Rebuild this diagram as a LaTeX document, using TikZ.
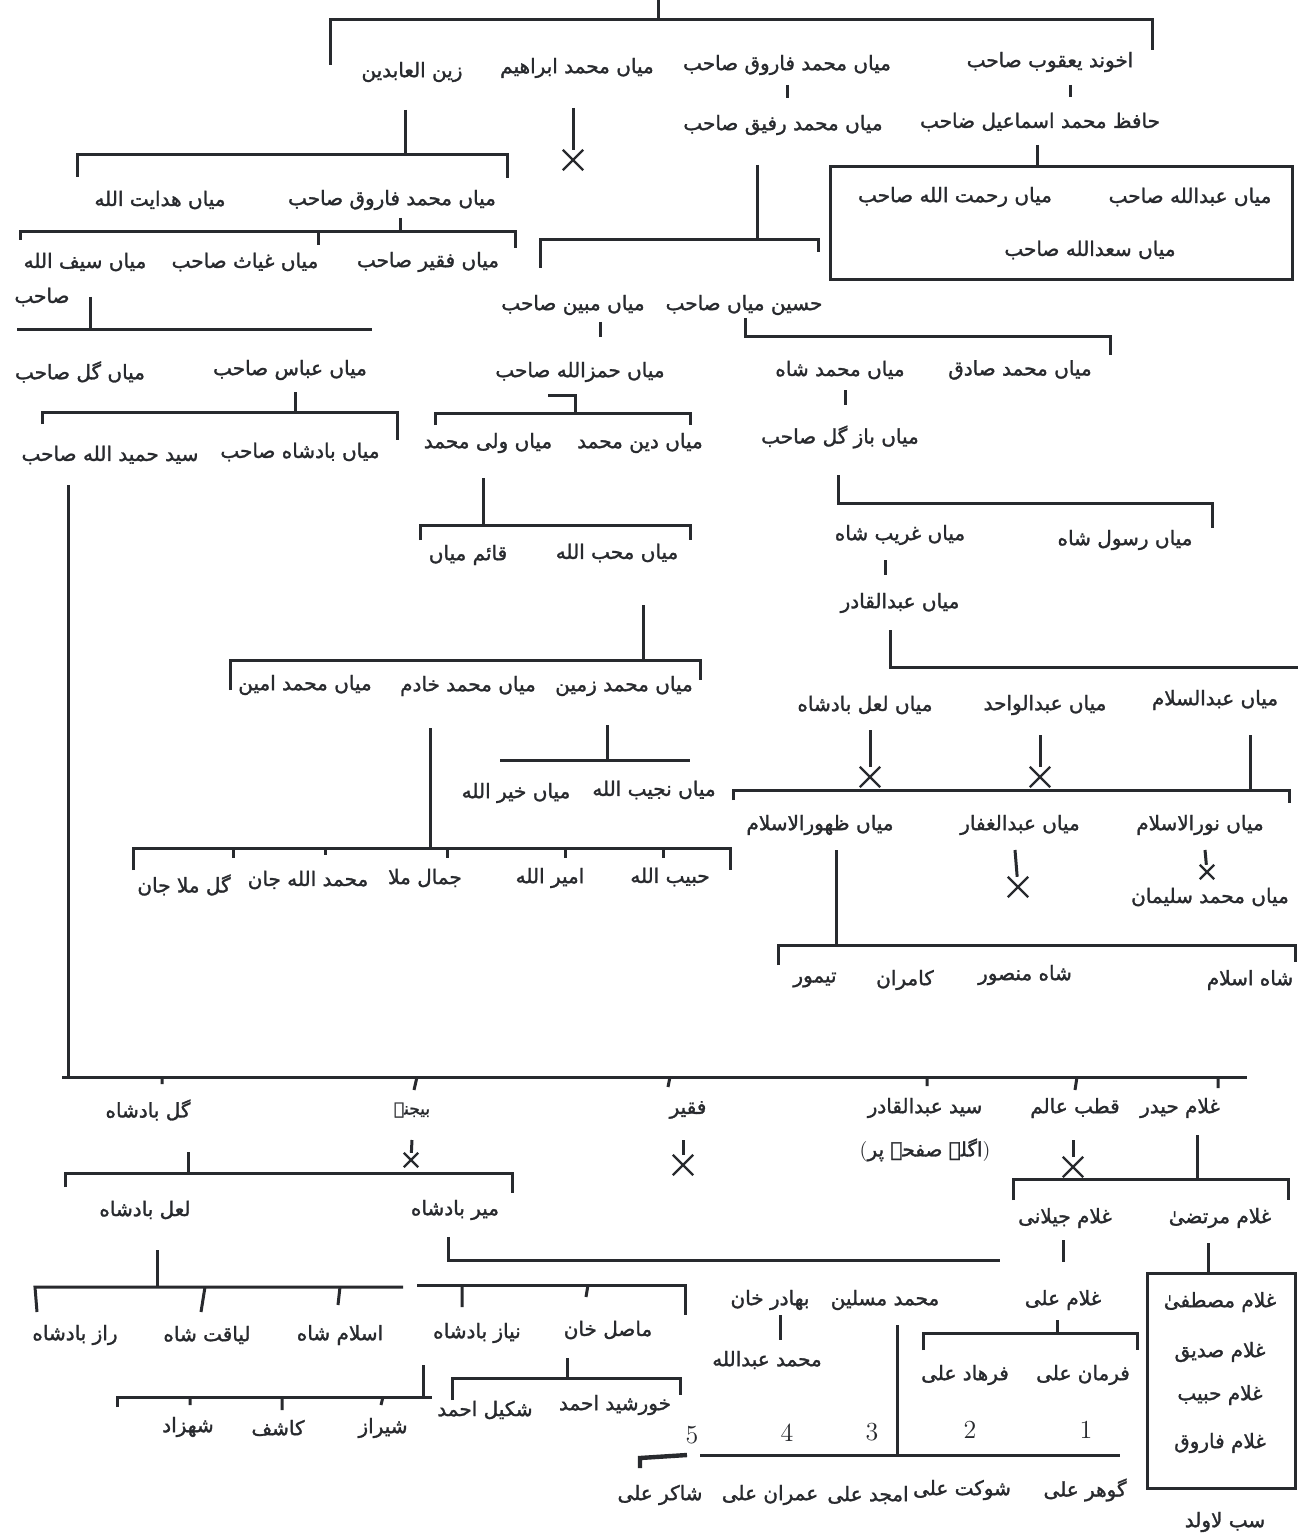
\documentclass[tikz,border=0pt]{standalone}
\usepackage{fontspec}
\newfontfamily\urfont[Script=Arabic, FakeBold=1.5]{DejaVu Sans}
\TeXXeTstate=1
\usepackage{tikz}
\usetikzlibrary{shapes.misc}
\definecolor{ink}{RGB}{40,42,46}
\newcommand{\ur}[1]{{\urfont\beginR #1\endR}}

\begin{document}
\begin{tikzpicture}[x=0.5pt, y=-0.5pt, color=ink, line width=1.5pt,
    every node/.style={font=\fontsize{10}{12}\selectfont, inner sep=1pt},
    cut/.style={draw, cross out, minimum size=9pt, inner sep=0pt, line width=1.2pt},
    num/.style={font=\fontsize{13}{14}\selectfont}]
  \fill[white] (0,0) rectangle (1314,1535);
  \useasboundingbox (0,0) rectangle (1314,1535);

  % first generation
  \node (yaqub) at (1050,62) {\ur{اخوند یعقوب صاحب}};
  \node (faruq1) at (787,65) {\ur{میاں محمد فاروق صاحب}};
  \node (ibrahim) at (577,68) {\ur{میاں محمد ابراهیم}};
  \node (zain) at (412,72) {\ur{زین العابدین}};
  \node (ismail) at (1040,122) {\ur{حافظ محمد اسماعیل ضاحب}};
  \node (rafiq) at (783,125) {\ur{میاں محمد رفیق صاحب}};
  \node (abdullah1) at (1190,197) {\ur{میاں عبدالله صاحب}};
  \node (rahmat) at (955,197) {\ur{میاں رحمت الله صاحب}};
  \node (sadullah) at (1090,250) {\ur{میاں سعدالله صاحب}};

  % left branch
  \node (faruq2) at (392,200) {\ur{میاں محمد فاروق صاحب}};
  \node (hidayat) at (160,200) {\ur{میاں هدایت الله}};
  \node (faqir1) at (428,262) {\ur{میاں فقیر صاحب}};
  \node (ghiyas) at (245,262) {\ur{میاں غیاث صاحب}};
  \node (saif) at (85,262) {\ur{میاں سیف الله}};
  \node (saif2) at (42,297) {\ur{صاحب}};
  \node (abbas) at (290,370) {\ur{میاں عباس صاحب}};
  \node (gul1) at (80,372) {\ur{میاں گل صاحب}};
  \node (badshah1) at (300,452) {\ur{میاں بادشاه صاحب}};
  \node (hamid) at (110,455) {\ur{سید حمید الله صاحب}};

  % middle branch
  \node (husain) at (744,305) {\ur{حسین میاں صاحب}};
  \node (mubin) at (573,305) {\ur{میاں مبین صاحب}};
  \node (hamza) at (580,372) {\ur{میاں حمزالله صاحب}};
  \node (dinm) at (640,443) {\ur{میاں دین محمد}};
  \node (walim) at (488,443) {\ur{میاں ولی محمد}};
  \node (muhib) at (617,553) {\ur{میاں محب الله}};
  \node (qaim) at (468,555) {\ur{قائم میاں}};
  \node (zamin) at (624,686) {\ur{میاں محمد زمین}};
  \node (khadim) at (468,686) {\ur{میاں محمد خادم}};
  \node (amin) at (305,685) {\ur{میاں محمد امین}};
  \node (najib) at (654,790) {\ur{میاں نجیب الله}};
  \node (khair) at (516,793) {\ur{میاں خیر الله}};
  \node (habib1) at (670,877) {\ur{حبیب الله}};
  \node (amir) at (550,878) {\ur{امیر الله}};
  \node (jamal) at (425,878) {\ur{جمال ملا}};
  \node (mjan) at (308,880) {\ur{محمد الله جان}};
  \node (gjan) at (184,885) {\ur{گل ملا جان}};

  % right branch
  \node (sadiq) at (1020,370) {\ur{میاں محمد صادق}};
  \node (mshah) at (840,370) {\ur{میاں محمد شاه}};
  \node (bazgul) at (840,437) {\ur{میاں باز گل صاحب}};
  \node (gharib) at (900,535) {\ur{میاں غریب شاه}};
  \node (rasul) at (1125,540) {\ur{میاں رسول شاه}};
  \node (abdulqadir) at (900,603) {\ur{میاں عبدالقادر}};
  \node (salam) at (1215,700) {\ur{میاں عبدالسلام}};
  \node (wahid) at (1045,705) {\ur{میاں عبدالواحد}};
  \node (lal1) at (865,705) {\ur{میاں لعل بادشاه}};
  \node (nurul) at (1200,825) {\ur{میاں نورالاسلام}};
  \node (ghaffar) at (1020,825) {\ur{میاں عبدالغفار}};
  \node (zuhur) at (820,825) {\ur{میاں ظهورالاسلام}};
  \node (sulaiman) at (1210,897) {\ur{میاں محمد سلیمان}};
  \node (shahislam) at (1250,980) {\ur{شاه اسلام}};
  \node (mansur) at (1025,975) {\ur{شاه منصور}};
  \node (kamran) at (905,980) {\ur{کامران}};
  \node (taimur) at (815,980) {\ur{تیمور}};

  % lower chart
  \node (gulb) at (148,1110) {\ur{گل بادشاه}};
  \node[font=\fontsize{8.5}{9}\selectfont] (bijne) at (412,1110) {\ur{بیجنے}};
  \node (faqir2) at (688,1110) {\ur{فقیر}};
  \node (sqadir) at (925,1108) {\ur{سید عبدالقادر}};
  \node (sqadir2) at (925,1150) {(\ur{اگلے صفحے پر})};
  \node (qutb) at (1075,1108) {\ur{قطب عالم}};
  \node (haidar) at (1180,1108) {\ur{غلام حیدر}};
  \node (lalb) at (145,1210) {\ur{لعل بادشاه}};
  \node (mirb) at (455,1210) {\ur{میر بادشاه}};
  \node (murtaza) at (1220,1218) {\ur{غلام مرتضیٰ}};
  \node (jilani) at (1065,1218) {\ur{غلام جیلانی}};
  \node (ali) at (1063,1300) {\ur{غلام علی}};
  \node (razb) at (75,1335) {\ur{راز بادشاه}};
  \node (liaqat) at (207,1335) {\ur{لیاقت شاه}};
  \node (islamshah) at (340,1335) {\ur{اسلام شاه}};
  \node (niaz) at (477,1333) {\ur{نیاز بادشاه}};
  \node (masil) at (608,1330) {\ur{ماصل خان}};
  \node (bahadur) at (770,1300) {\ur{بهادر خان}};
  \node (muslin) at (885,1300) {\ur{محمد مسلین}};
  \node (mabdullah) at (767,1360) {\ur{محمد عبدالله}};
  \node (farman) at (1083,1375) {\ur{فرمان علی}};
  \node (farhad) at (965,1375) {\ur{فرهاد علی}};
  \node (mustafa) at (1220,1302) {\ur{غلام مصطفیٰ}};
  \node (siddiq) at (1220,1352) {\ur{غلام صدیق}};
  \node (habib2) at (1220,1395) {\ur{غلام حبیب}};
  \node (faruq3) at (1220,1443) {\ur{غلام فاروق}};
  \node (sab) at (1225,1522) {\ur{سب لاولد}};
  \node (shahzad) at (188,1427) {\ur{شهزاد}};
  \node (kashif) at (278,1428) {\ur{کاشف}};
  \node (shiraz) at (383,1428) {\ur{شیراز}};
  \node (khurshid) at (615,1405) {\ur{خورشید احمد}};
  \node (shakil) at (485,1410) {\ur{شکیل احمد}};
  \node[num] (n1) at (1086,1430) {1};
  \node[num] (n2) at (970,1430) {2};
  \node[num] (n3) at (872,1432) {3};
  \node[num] (n4) at (787,1433) {4};
  \node[num] (n5) at (692,1435) {5};
  \node (gohar) at (1085,1490) {\ur{گوهر علی}};
  \node (shaukat) at (962,1490) {\ur{شوکت علی}};
  \node (amjad) at (868,1495) {\ur{امجد علی}};
  \node (imran) at (770,1495) {\ur{عمران علی}};
  \node (shakir) at (660,1495) {\ur{شاکر علی}};

  % top bus
  \coordinate (root) at (658,0);
  \coordinate (r-l) at (330,20); \coordinate (r-r) at (1152,20);
  \draw (root) -- (root |- r-l);
  \draw (r-l) ++(0,45) -- (r-l) -- (r-r) -- ++(0,30);

  \coordinate (yq) at (1070,85); \draw (yq) -- ++(0,12);
  \coordinate (is) at (1037,145);
  \coordinate (box1a) at (830,167); \coordinate (box1b) at (1292,280);
  \draw (is) -- (is |- box1a);
  \draw (box1a) rectangle (box1b);
  \coordinate (fq) at (787,85); \draw (fq) -- ++(0,13);
  \coordinate (ib) at (573,108);
  \node[cut] (ib-x) at (573,160) {};
  \draw (ib) -- (ib-x);

  % zain
  \coordinate (zn) at (405,110);
  \coordinate (zn-l) at (77,155); \coordinate (zn-r) at (507,155);
  \draw (zn) -- (zn |- zn-l);
  \draw (zn-l) ++(0,22) -- (zn-l) -- (zn-r) -- ++(0,23);
  \coordinate (f2) at (400,218);
  \coordinate (f2-l) at (20,232); \coordinate (f2-r) at (515,232);
  \coordinate (f2-t) at (318,232);
  \draw (f2) -- (f2 |- f2-l);
  \draw (f2-l) ++(0,8) -- (f2-l) -- (f2-r) -- ++(0,16);
  \draw (f2-t) -- ++(0,13);
  \coordinate (sf) at (90,297);
  \coordinate (sf-l) at (17,330); \coordinate (sf-r) at (372,330);
  \draw (sf) -- (sf |- sf-l);
  \draw (sf-l) -- (sf-r);
  \coordinate (ab) at (295,392);
  \coordinate (ab-l) at (42,412); \coordinate (ab-r) at (397,412);
  \draw (ab) -- (ab |- ab-l);
  \draw (ab-l) ++(0,12) -- (ab-l) -- (ab-r) -- ++(0,28);
  \coordinate (hm) at (68,485);
  \coordinate (hm-l) at (62,1077); \coordinate (hm-r) at (1247,1077);
  \draw (hm) -- (hm |- hm-l);
  \draw (hm-l) -- (hm-r);
  \draw (162,1077) -- ++(0,7) (417,1077) -- ++(-3,13) (670,1077) -- ++(-2,10)
        (927,1077) -- ++(0,9) (1077,1077) -- ++(-2,13) (1218,1077) -- ++(0,11);

  % rafiq
  \coordinate (rf) at (757,165);
  \coordinate (rf-l) at (540,240); \coordinate (rf-r) at (818,240);
  \draw (rf) -- (rf |- rf-l);
  \draw (rf-l) ++(0,28) -- (rf-l) -- (rf-r) -- ++(0,12);
  \coordinate (mb) at (600,322); \draw (mb) -- ++(0,15);
  \coordinate (hs) at (745,318); \coordinate (hs-r) at (1110,337);
  \draw (hs) -- (hs |- hs-r) -- (hs-r) -- ++(0,18);
  \coordinate (ms) at (845,390); \draw (ms) -- ++(0,15);
  \coordinate (bz) at (838,475); \coordinate (bz-r) at (1212,503);
  \draw (bz) -- (bz |- bz-r) -- (bz-r) -- ++(0,25);
  \coordinate (gb) at (885,560); \draw (gb) -- ++(0,15);
  \coordinate (aq) at (890,630); \coordinate (aq-r) at (1298,667);
  \draw (aq) -- (aq |- aq-r) -- (aq-r);
  \coordinate (ll) at (870,730); \node[cut] (ll-x) at (870,777) {};
  \draw (ll) -- (ll-x);
  \coordinate (wh) at (1040,735); \node[cut] (wh-x) at (1040,777) {};
  \draw (wh) -- (wh-x);
  \coordinate (sl) at (1250,735);
  \coordinate (sl-l) at (733,790); \coordinate (sl-r) at (1289,790);
  \draw (sl) -- (sl |- sl-l);
  \draw (sl-l) ++(0,10) -- (sl-l) -- (sl-r) -- ++(0,13);
  \coordinate (gf) at (1015,850); \node[cut] (gf-x) at (1018,887) {};
  \draw (gf) -- (gf-x);
  \coordinate (nr) at (1205,850); \node[cut, minimum size=6pt] (nr-x) at (1207,872) {};
  \draw (nr) -- (nr-x);
  \coordinate (zh) at (836,850);
  \coordinate (zh-l) at (778,945); \coordinate (zh-r) at (1295,945);
  \draw (zh) -- (zh |- zh-l);
  \draw (zh-l) ++(0,20) -- (zh-l) -- (zh-r) -- ++(0,17);

  % hamza
  \coordinate (hz) at (575,395);
  \coordinate (hz-l) at (435,413); \coordinate (hz-r) at (690,413);
  \draw (hz) ++(-27,0) -- (hz) -- (hz |- hz-l);
  \draw (hz-l) ++(0,12) -- (hz-l) -- (hz-r) -- ++(0,12);
  \coordinate (wl) at (483,478);
  \coordinate (wl-l) at (420,525); \coordinate (wl-r) at (690,525);
  \draw (wl) -- (wl |- wl-l);
  \draw (wl-l) ++(0,15) -- (wl-l) -- (wl-r) -- ++(0,15);
  \coordinate (mh) at (643,605);
  \coordinate (mh-l) at (230,660); \coordinate (mh-r) at (700,660);
  \draw (mh) -- (mh |- mh-l);
  \draw (mh-l) ++(0,30) -- (mh-l) -- (mh-r) -- ++(0,20);
  \coordinate (zm) at (607,725);
  \coordinate (zm-l) at (500,760); \coordinate (zm-r) at (690,760);
  \draw (zm) -- (zm |- zm-l);
  \draw (zm-l) -- (zm-r);
  \coordinate (kd) at (430,728);
  \coordinate (kd-l) at (133,848); \coordinate (kd-r) at (730,848);
  \draw (kd) -- (kd |- kd-l);
  \draw (kd-l) ++(0,22) -- (kd-l) -- (kd-r) -- ++(0,22);
  \draw (233,848) -- ++(0,10) (325,848) -- ++(0,7) (447,848) -- ++(0,10)
        (565,848) -- ++(0,10) (663,848) -- ++(0,10);

  % lower chart
  \coordinate (gl) at (188,1152);
  \coordinate (gl-l) at (65,1173); \coordinate (gl-r) at (512,1173);
  \draw (gl) -- (gl |- gl-l);
  \draw (gl-l) ++(0,14) -- (gl-l) -- (gl-r) -- ++(0,20);
  \coordinate (bj) at (412,1140); \node[cut, minimum size=6pt] (bj-x) at (411,1160) {};
  \draw (bj) -- (bj-x);
  \coordinate (fr) at (683,1140); \node[cut] (fr-x) at (683,1165) {};
  \draw (fr) -- (fr-x);
  \coordinate (qt) at (1073,1140); \node[cut] (qt-x) at (1073,1167) {};
  \draw (qt) -- (qt-x);
  \coordinate (hd) at (1197,1135);
  \coordinate (hd-l) at (1013,1179); \coordinate (hd-r) at (1288,1179);
  \draw (hd) -- (hd |- hd-l);
  \draw (hd-l) ++(0,21) -- (hd-l) -- (hd-r) -- ++(0,21);
  \coordinate (jl) at (1063,1240); \draw (jl) -- ++(0,22);
  \coordinate (al) at (1057,1320);
  \coordinate (al-l) at (923,1333); \coordinate (al-r) at (1137,1333);
  \draw (al) -- (al |- al-l);
  \draw (al-l) ++(0,17) -- (al-l) -- (al-r) -- ++(0,17);
  \coordinate (mt) at (1208,1243);
  \coordinate (box2a) at (1147,1273); \coordinate (box2b) at (1295,1488);
  \draw (mt) -- (mt |- box2a);
  \draw (box2a) rectangle (box2b);
  \coordinate (mr) at (448,1237); \coordinate (mr-r) at (1000,1260);
  \draw (mr) -- (mr |- mr-r) -- (mr-r);
  \coordinate (lb) at (157,1250);
  \coordinate (lb-l) at (35,1287); \coordinate (lb-m) at (403,1287);
  \coordinate (lb-n) at (417,1285); \coordinate (lb-r) at (685,1285);
  \draw (lb) -- (lb |- lb-l);
  \draw (lb-l) ++(2,25) -- (lb-l) -- (lb-m);
  \draw (lb-n) -- (lb-r) -- ++(0,30);
  \draw (205,1287) -- ++(-4,25) (340,1287) -- ++(-2,18) (462,1285) -- ++(0,22)
        (588,1285) -- ++(-2,12);
  \coordinate (il) at (423,1365);
  \coordinate (il-l) at (117,1397); \coordinate (il-r) at (432,1397);
  \draw (il) -- (il |- il-l);
  \draw (il-l) ++(0,10) -- (il-l) -- (il-r);
  \draw (190,1397) -- ++(0,8) (282,1397) -- ++(0,13) (383,1397) -- ++(-2,8);
  \coordinate (mz) at (567,1358);
  \coordinate (mz-l) at (452,1378); \coordinate (mz-r) at (680,1378);
  \draw (mz) -- (mz |- mz-l);
  \draw (mz-l) ++(0,22) -- (mz-l) -- (mz-r) -- ++(0,17);
  \coordinate (bh) at (780,1315); \draw (bh) -- ++(0,25);
  \coordinate (ls) at (897,1325);
  \coordinate (ls-l) at (700,1455); \coordinate (ls-r) at (1120,1455);
  \draw (ls) -- (ls |- ls-l);
  \draw (ls-l) -- (ls-r);
  \draw[line width=2.2pt] (640,1468) -- (640,1458) -- (687,1455);
\end{tikzpicture}
\end{document}
